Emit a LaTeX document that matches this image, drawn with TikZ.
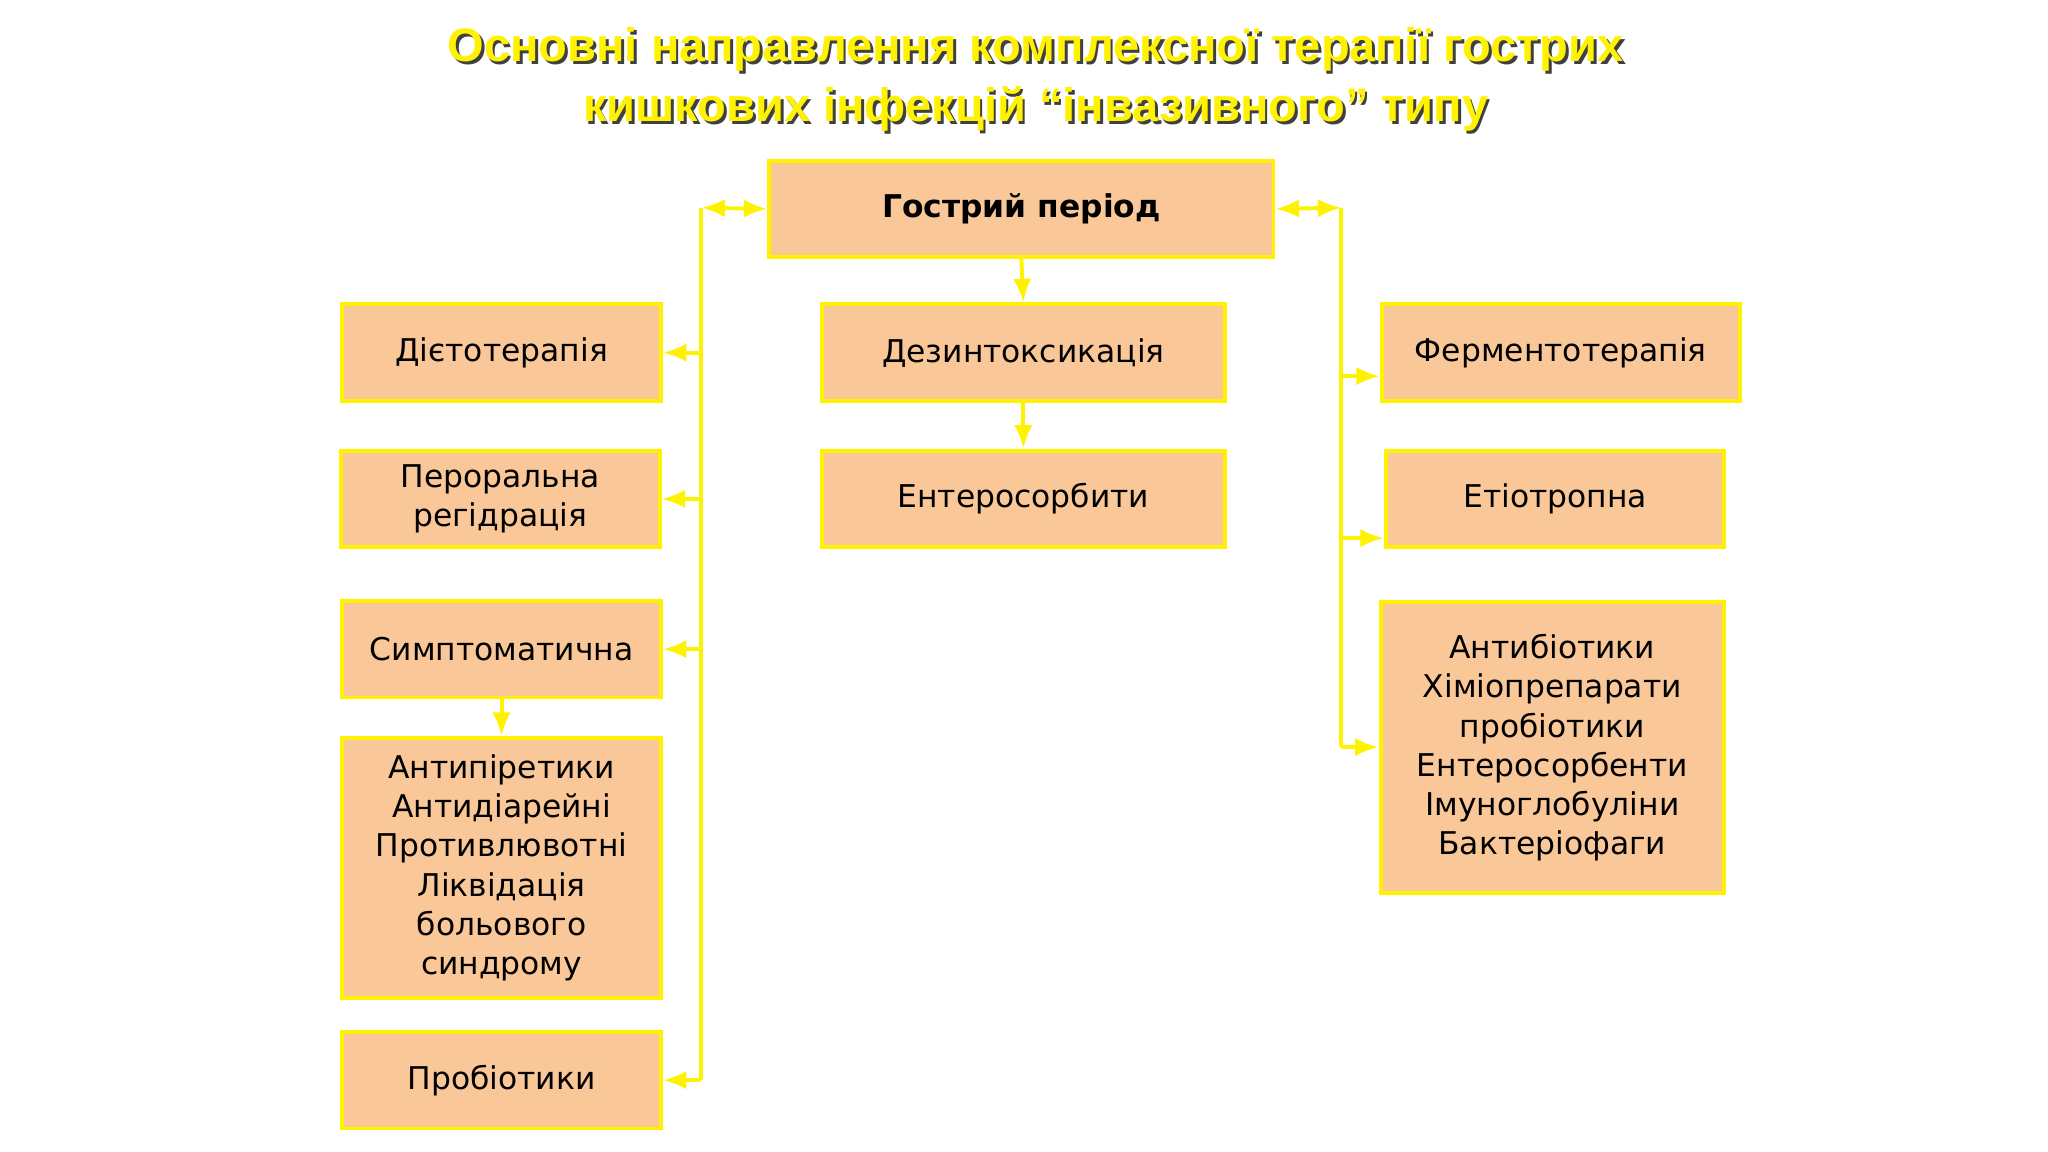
\documentclass[tikz,border=0pt]{standalone}
\usepackage{fontspec}
\setmainfont{DejaVu Sans}
\newfontfamily\titlefont{Liberation Sans}
\usetikzlibrary{arrows.meta}
\definecolor{peach}{HTML}{FAC898}
\definecolor{yel}{HTML}{FFF200}
\tikzset{
  box/.style={draw=yel, line width=1.5pt, fill=peach, inner sep=0pt, align=center, font=\fontsize{12}{15}\selectfont},
  conn/.style={draw=yel, line width=1.5pt, -{Latex[length=9pt,width=7pt]}},
  conn2/.style={draw=yel, line width=1.5pt, {Latex[length=9pt,width=7pt]}-{Latex[length=9pt,width=7pt]}},
  ttl/.style={font=\titlefont\bfseries\fontsize{18}{23}\selectfont, align=center}
}
\newcommand{\bx}[6]{\node[box, minimum width=#4*0.5pt-#2*0.5pt, minimum height=#5*0.5pt-#3*0.5pt] (#1) at ({(#2+#4)/2},{(#3+#5)/2}) {#6};}
\begin{document}
\begin{tikzpicture}[x=0.5pt,y=-0.5pt]
\useasboundingbox (0,0) rectangle (1568,882);
\node[ttl, text=black!75] at (795,63) {Основні направлення комплексної терапії гострих\\кишкових інфекцій “інвазивного” типу};
\node[ttl, text=yel] at (793,61) {Основні направлення комплексної терапії гострих\\кишкових інфекцій “інвазивного” типу};
\bx{g}{589}{123}{975}{197}{\textbf{Гострий період}}
\bx{d1}{262}{233}{506}{307}{Дієтотерапія}
\bx{d2}{261}{345}{505}{419}{Пероральна\\регідрація}
\bx{d3}{262}{460}{506}{534}{Симптоматична}
\bx{d4}{262}{565}{506}{764}{Антипіретики\\Антидіарейні\\Противлювотні\\Ліквідація\\больового\\синдрому}
\bx{d5}{262}{790}{506}{864}{Пробіотики}
\bx{c1}{629}{233}{938}{307}{Дезинтоксикація}
\bx{c2}{629}{345}{938}{419}{Ентеросорбити}
\bx{r1}{1058}{233}{1332}{307}{Ферментотерапія}
\bx{r2}{1061}{345}{1320}{419}{Етіотропна}
\bx{r3}{1057}{461}{1320}{684}{Антибіотики\\Хіміопрепарати\\пробіотики\\Ентеросорбенти\\Імуноглобуліни\\Бактеріофаги}
\coordinate (lt) at (537,159); \coordinate (lb) at (537,827);
\coordinate (rt) at (1027,159); \coordinate (rb) at (1027,572);
\draw[conn2] (lt) -- (g.west);
\draw[conn2] (rt) -- (g.east);
\draw[draw=yel, line width=1.5pt] (lt) -- (lb);
\draw[draw=yel, line width=1.5pt] (rt) -- (rb);
\foreach \n in {d1,d2,d3,d5} \draw[conn] (lt |- \n.east) -- (\n.east);
\draw[conn] (rt |- 0,288) -- (r1.west |- 0,288);
\draw[conn] (rt |- 0,412) -- (r2.west |- 0,412);
\draw[conn] (rb) -- (r3.west |- rb);
\draw[conn] (g.south) -- (c1.north);
\draw[conn] (c1.south) -- (c2.north);
\draw[conn] (d3.south) -- (d4.north);
\end{tikzpicture}
\end{document}
